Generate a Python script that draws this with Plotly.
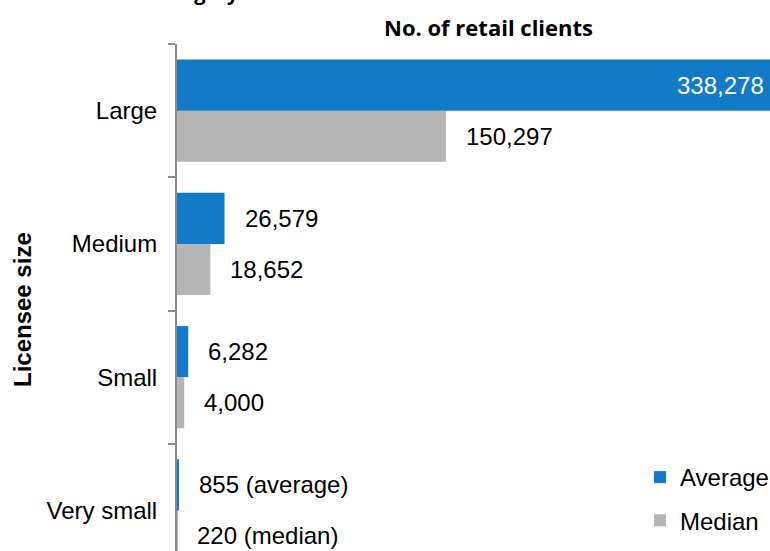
import plotly.graph_objects as go

# Licensee size categories (bottom to top on the axis)
categories = ["Very small", "Small", "Medium", "Large"]
average_clients = [855, 6282, 26579, 338278]
median_clients = [220, 4000, 18652, 150297]
label_suffix_avg = [" (average)", "", "", ""]
label_suffix_med = [" (median)", "", "", ""]

BLUE = "#127AC6"
GREY = "#B5B5B5"
AXIS_GREY = "#8C8C8C"
LABEL_FONT = dict(family="Liberation Sans, Arial, sans-serif", size=24, color="black")

X_MAX = 331500
BARGAP = 0.233
HALF = (1 - BARGAP) / 4  # centre offset of each bar within its group

fig = go.Figure()
fig.add_trace(go.Bar(
    y=categories, x=median_clients, orientation="h", name="Median",
    marker=dict(color=GREY, line=dict(width=0)), legendgroup="median", legendrank=2,
))
fig.add_trace(go.Bar(
    y=categories, x=average_clients, orientation="h", name="Average",
    marker=dict(color=BLUE, line=dict(width=0)), legendgroup="average", legendrank=1,
))

annotations = []
for i, (avg, med) in enumerate(zip(average_clients, median_clients)):
    for val, suffix, off in ((avg, label_suffix_avg[i], HALF), (med, label_suffix_med[i], -HALF)):
        text = f"{val:,}{suffix}"
        if val > X_MAX:
            annotations.append(dict(
                x=X_MAX, y=i + off, xref="x", yref="y", text=text, showarrow=False,
                xanchor="right", yanchor="middle", xshift=-4,
                font=dict(LABEL_FONT, color="white"),
            ))
        else:
            annotations.append(dict(
                x=val, y=i + off, xref="x", yref="y", text=text, showarrow=False,
                xanchor="left", yanchor="middle", xshift=18, font=LABEL_FONT,
            ))

# chart heading and axis title
annotations.append(dict(
    x=(488 - 177) / 593, y=1.0335, xref="paper", yref="paper", text="<b>No. of retail clients</b>",
    showarrow=False, xanchor="center", yanchor="middle",
    font=dict(family="Open Sans, sans-serif", size=22, color="black"),
))
annotations.append(dict(
    x=0.108, y=1.071, xref="paper", yref="paper", text="<b>Licensee category</b>",
    showarrow=False, xanchor="right", yanchor="bottom",
    font=dict(family="Open Sans, sans-serif", size=20, color="black"),
))
annotations.append(dict(
    x=(22 - 177) / 593, y=0.4753, xref="paper", yref="paper", text="<b>Licensee size</b>",
    showarrow=False, xanchor="center", yanchor="middle", textangle=-90,
    font=dict(family="Liberation Sans, Arial, sans-serif", size=24, color="black"),
))

fig.update_layout(
    width=770, height=551,
    margin=dict(l=177, r=0, t=44, b=0, autoexpand=False),
    paper_bgcolor="white", plot_bgcolor="white",
    barmode="group", bargap=BARGAP, bargroupgap=0,
    showlegend=True,
    legend=dict(
        x=(640 - 177) / 593, y=1 - (455 - 44) / 507, xanchor="left", yanchor="top",
        traceorder="grouped", tracegroupgap=9, itemwidth=30,
        font=LABEL_FONT, bgcolor="rgba(0,0,0,0)",
    ),
    annotations=annotations,
)
fig.update_xaxes(range=[0, X_MAX], visible=False, showgrid=False, zeroline=False)
fig.update_yaxes(
    type="category", categoryorder="array", categoryarray=categories,
    range=[-0.5 + 26 / 133.2, 3.5],
    showline=True, linecolor=AXIS_GREY, linewidth=2,
    ticks="outside", tickson="boundaries", ticklen=7, tickwidth=1.5, tickcolor=AXIS_GREY,
    ticklabelstandoff=13, tickfont=LABEL_FONT, showgrid=False, zeroline=False,
)

fig.write_html("out.html")
